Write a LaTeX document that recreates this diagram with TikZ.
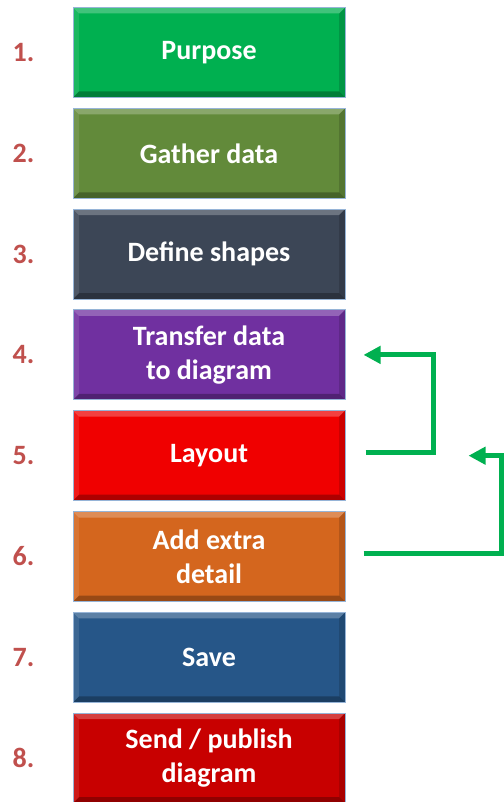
\documentclass[tikz,border=0pt]{standalone}
\usepackage{fontspec}
\setmainfont{Carlito}
\usetikzlibrary{positioning, arrows.meta}

\definecolor{numred}{RGB}{192,80,77}
\definecolor{arrowgreen}{RGB}{0,176,80}
\definecolor{cPurpose}{RGB}{0,176,80}
\definecolor{cGather}{RGB}{98,138,58}
\definecolor{cShapes}{RGB}{60,70,86}
\definecolor{cTransfer}{RGB}{112,48,160}
\definecolor{cLayout}{RGB}{240,0,0}
\definecolor{cDetail}{RGB}{212,102,30}
\definecolor{cSave}{RGB}{38,86,136}
\definecolor{cSend}{RGB}{200,0,0}
\definecolor{rim}{RGB}{150,180,215}

\tikzset{
  stepbox/.style={draw=rim, line width=1pt, minimum width=272pt, minimum height=90pt,
    inner sep=0pt, text=white, align=center, font=\bfseries\fontsize{28}{34}\selectfont,
    path picture={
      \path (path picture bounding box.north west) coordinate (a1)
            (path picture bounding box.north east) coordinate (a2)
            (path picture bounding box.south east) coordinate (a3)
            (path picture bounding box.south west) coordinate (a4)
            ([shift={(6pt,-6pt)}]path picture bounding box.north west) coordinate (i1)
            ([shift={(-6pt,-6pt)}]path picture bounding box.north east) coordinate (i2)
            ([shift={(-6pt,6pt)}]path picture bounding box.south east) coordinate (i3)
            ([shift={(6pt,6pt)}]path picture bounding box.south west) coordinate (i4);
      \fill[white, opacity=.25] (a1) -- (a2) -- (i2) -- (i1) -- cycle;
      \fill[black, opacity=.15] (a2) -- (a3) -- (i3) -- (i2) -- cycle;
      \fill[black, opacity=.28] (a3) -- (a4) -- (i4) -- (i3) -- cycle;
      \fill[white, opacity=.1] (a4) -- (a1) -- (i1) -- (i4) -- cycle;
    }},
  num/.style={text=numred, inner sep=0pt, font=\bfseries\fontsize{28}{30}\selectfont},
  backarrow/.style={draw=arrowgreen, line width=5pt, -{Triangle[length=17pt,width=17pt]}}
}

\begin{document}
\begin{tikzpicture}[x=1pt,y=1pt]
    \useasboundingbox (0,0) rectangle (503,-802);
    \foreach \i/\txt/\col in {1/Purpose/cPurpose, 2/Gather data/cGather,
        3/Define shapes/cShapes, 4/{Transfer data\\to diagram}/cTransfer,
        5/Layout/cLayout, 6/{Add extra\\detail}/cDetail, 7/Save/cSave,
        8/{Send / publish\\diagram}/cSend}
    {
        \node[stepbox, fill=\col] (b\i) at (209,{-52.5-100.8*(\i-1)}) {\txt};
        \node[num, left=38pt of b\i] (n\i) {\i.};
    }
    % go back and redo
    \coordinate (tip) at ([xshift=123pt]b5.east);
    \draw[backarrow] ([xshift=20pt,yshift=3pt]b5.east) -- ++(68pt,0) |- ([xshift=18pt]b4.east);
    \draw[backarrow] ([xshift=18pt,yshift=3pt]b6.east) -- ++(138pt,0) |- (tip);
\end{tikzpicture}
\end{document}
